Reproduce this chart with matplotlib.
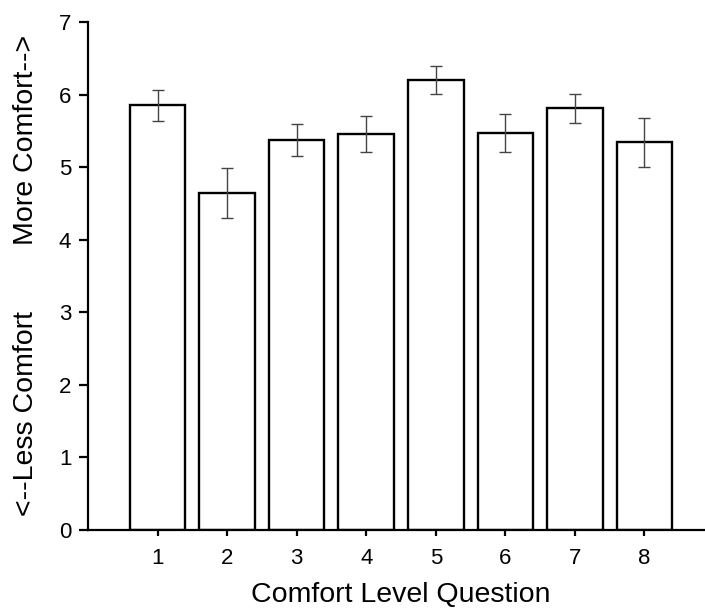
import matplotlib
matplotlib.use("Agg")
import matplotlib.pyplot as plt
import numpy as np

plt.rcParams['font.family'] = ['Liberation Sans', 'DejaVu Sans']

# 数据：每个问题的平均舒适度及误差
questions = [1, 2, 3, 4, 5, 6, 7, 8]
means = [5.85, 4.64, 5.37, 5.46, 6.20, 5.47, 5.81, 5.34]
errors = [0.21, 0.345, 0.22, 0.25, 0.19, 0.26, 0.20, 0.335]
yticks = [0, 1, 2, 3, 4, 5, 6, 7]

fig = plt.figure(figsize=(7.05, 6.14), dpi=100)
# 坐标轴位置（右侧延伸到图外）
ax = fig.add_axes([88 / 705, 1 - 530 / 614, 626 / 705, 508 / 614])

ax.bar(questions, means, width=0.8, color='white', edgecolor='black',
       linewidth=1.7, zorder=2)
ax.errorbar(questions, means, yerr=errors, fmt='none', ecolor='#444444',
            elinewidth=1.0, capsize=4.5, capthick=1.0, zorder=3)

ax.set_xlim(0, 9)
ax.set_ylim(0, 7)
ax.set_xticks(questions)
ax.set_yticks(yticks)

for side in ['top', 'right']:
    ax.spines[side].set_visible(False)
for side in ['left', 'bottom']:
    ax.spines[side].set_linewidth(1.6)
    ax.spines[side].set_color('black')

ax.tick_params(axis='both', direction='out', width=1.6,
               labelsize=16, colors='black')
ax.tick_params(axis='x', length=4.5, pad=8.5)
ax.tick_params(axis='y', length=6.5, pad=5.5)

ax.set_xlabel('Comfort Level Question', fontsize=20.5, labelpad=9)

# y 轴两段说明文字
fig.text(26 / 705, 1 - 413.5 / 614, '<--Less Comfort', rotation=90,
         ha='center', va='center', fontsize=20.5)
fig.text(26 / 705, 1 - 139.5 / 614, 'More Comfort-->', rotation=90,
         ha='center', va='center', fontsize=20.5)

fig.savefig('out.png', dpi=100)
